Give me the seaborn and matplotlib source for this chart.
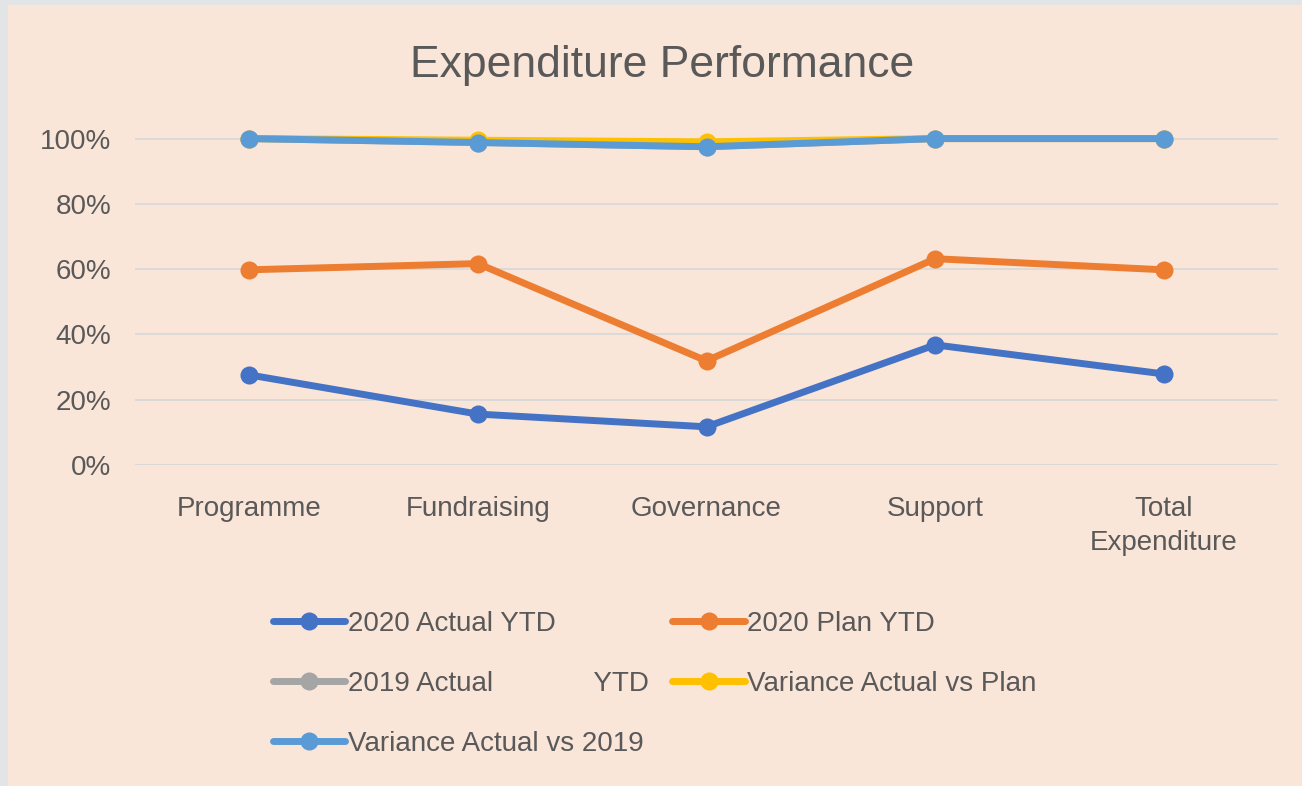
import pandas as pd
import matplotlib.pyplot as plt
import seaborn as sns
from matplotlib.patches import Rectangle
from matplotlib.lines import Line2D
from matplotlib.ticker import PercentFormatter

# Data
categories = ['Programme', 'Fundraising', 'Governance', 'Support', 'Total\nExpenditure']
actual_2020 = [0.276, 0.156, 0.117, 0.368, 0.279]
plan_2020 = [0.598, 0.617, 0.319, 0.632, 0.598]
actual_2019 = [1.00, 0.988, 0.975, 1.00, 1.00]
var_vs_plan = [1.00, 0.995, 0.99, 1.00, 1.00]
var_vs_2019 = [1.00, 0.988, 0.975, 1.00, 1.00]

series_names = ['2020 Actual YTD', '2020 Plan YTD', '2019 Actual             YTD',
                'Variance Actual vs Plan', 'Variance Actual vs 2019']
series_vals = [actual_2020, plan_2020, actual_2019, var_vs_plan, var_vs_2019]
colors = ['#4472C4', '#ED7D31', '#A5A5A5', '#FFC000', '#5B9BD5']

rows = []
for name, vals in zip(series_names, series_vals):
    for i, v in enumerate(vals):
        rows.append({'Category': i, 'Series': name, 'Value': v})
df = pd.DataFrame(rows)

sns.set_theme(style='white')
plt.rcParams['font.family'] = ['Liberation Sans', 'DejaVu Sans']
text_col = '#595959'
bg = '#FAE5D9'

fig = plt.figure(figsize=(13.02, 7.86), dpi=100, facecolor='#E3E4E6')
fig.patches.append(Rectangle((8 / 1302, 0), 1, 1 - 5 / 786, transform=fig.transFigure,
                             facecolor=bg, edgecolor='none', zorder=-10))

ax = fig.add_axes([135 / 1302, 1 - 465 / 786, (1278 - 135) / 1302, (465 - 119) / 786])
ax.set_facecolor(bg)

sns.lineplot(data=df, x='Category', y='Value', hue='Series', hue_order=series_names,
             palette=colors, marker='o', markersize=13, markeredgewidth=0,
             linewidth=5, ax=ax, legend=False, clip_on=False)

ax.set_xlim(-0.5, 4.5)
ax.set_ylim(0, 1.06)
ax.set_yticks([0, 0.2, 0.4, 0.6, 0.8, 1.0])
ax.yaxis.set_major_formatter(PercentFormatter(1.0, decimals=0))
ax.set_xticks(range(len(categories)))
ax.set_xticklabels(categories, linespacing=1.4)
ax.grid(axis='y', color='#D9D9D9', linewidth=1.3)
ax.set_axisbelow(True)
for s in ax.spines.values():
    s.set_visible(False)
ax.tick_params(axis='both', length=0, labelsize=20, colors=text_col)
ax.tick_params(axis='y', pad=17)
ax.tick_params(axis='x', pad=22)
ax.set_xlabel('')
ax.set_ylabel('')

fig.text(662 / 1302, 1 - 65 / 786, 'Expenditure Performance', ha='center', va='center',
         fontsize=32, color=text_col)

# legend filled row by row like the original
order = [0, 2, 4, 1, 3]
handles = [Line2D([0], [0], color=c, linewidth=5, marker='o', markersize=13,
                  markeredgewidth=0) for c in colors]
leg = fig.legend([handles[i] for i in order], [series_names[i] for i in order],
                 ncol=2, loc='upper left',
                 bbox_to_anchor=(248 / 1302, 1 - 586 / 786), frameon=False,
                 fontsize=20, handlelength=2.6, handletextpad=0.1,
                 columnspacing=0.85, labelspacing=1.22)
for t in leg.get_texts():
    t.set_color(text_col)

fig.savefig('out.png', dpi=100, facecolor=fig.get_facecolor())
